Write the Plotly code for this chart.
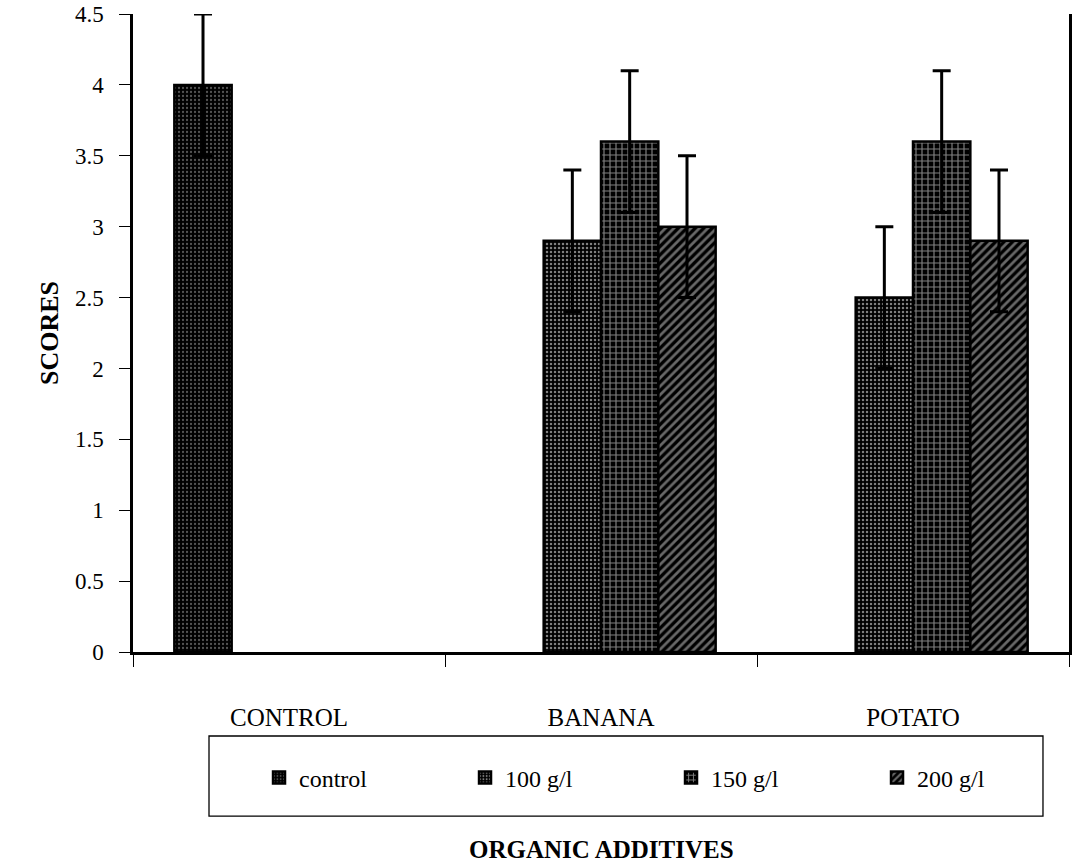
import plotly.graph_objects as go

# Treatment groups on the x-axis
categories = ["CONTROL", "BANANA", "POTATO"]

# Mean scores and standard errors per concentration
control_vals = [4.0, None, None]
control_err = [0.5, None, None]
g100_vals = [None, 2.9, 2.5]
g100_err = [None, 0.5, 0.5]
g150_vals = [None, 3.6, 3.6]
g150_err = [None, 0.5, 0.5]
g200_vals = [None, 3.0, 2.9]
g200_err = [None, 0.5, 0.5]

series_names = ["control", "100 g/l", "150 g/l", "200 g/l"]
y_ticks = [0, 0.5, 1, 1.5, 2, 2.5, 3, 3.5, 4, 4.5]

FONT = "Liberation Serif"

patterns = [
    dict(shape=".", fgcolor="#a8a8a8", bgcolor="#000000", size=4, solidity=0.25),
    dict(shape=".", fgcolor="#ffffff", bgcolor="#000000", size=4, solidity=0.3),
    dict(shape="+", fgcolor="#ffffff", bgcolor="#000000", size=6, solidity=0.35),
    dict(shape="/", fgcolor="#d0d0d0", bgcolor="#000000", size=6, solidity=0.45),
]

fig = go.Figure()
for name, vals, errs, pat in zip(
    series_names,
    [control_vals, g100_vals, g150_vals, g200_vals],
    [control_err, g100_err, g150_err, g200_err],
    patterns,
):
    fig.add_trace(go.Bar(
        x=categories,
        y=vals,
        name=name,
        marker=dict(color="black", pattern=pat, line=dict(color="black", width=2.5)),
        error_y=dict(type="data", array=errs, visible=True,
                     color="black", thickness=3, width=9),
    ))

# Frame around the legend
fig.add_shape(type="rect", xref="paper", yref="paper",
              x0=0.0812, x1=0.9722, y0=-0.2571, y1=-0.1317,
              line=dict(color="black", width=1.3), fillcolor="rgba(0,0,0,0)")

# x-axis title, set below the legend
fig.add_annotation(text="<b>ORGANIC ADDITIVES</b>", xref="paper", yref="paper",
                   x=0.5, y=-0.3103, xanchor="center", yanchor="middle",
                   showarrow=False, font=dict(family=FONT, size=25, color="black"))

fig.update_layout(
    width=1073, height=868,
    margin=dict(l=133, r=4, t=14, b=216, autoexpand=False),
    paper_bgcolor="white", plot_bgcolor="white",
    barmode="group", bargap=0.265, bargroupgap=0,
    font=dict(family=FONT, size=22, color="black"),
    showlegend=True,
    legend=dict(
        orientation="h", xref="container", yref="container",
        x=0.2414, xanchor="left", y=0.1037, yanchor="middle",
        entrywidth=161, entrywidthmode="pixels",
        font=dict(family=FONT, size=24, color="black"),
        bgcolor="rgba(0,0,0,0)", borderwidth=0,
        traceorder="normal",
    ),
    xaxis=dict(
        type="category", categoryorder="array", categoryarray=categories,
        tickson="boundaries", ticks="outside", ticklen=12, tickwidth=1.2,
        tickcolor="black", showline=True, linecolor="black", linewidth=2.5,
        mirror=False, showgrid=False, zeroline=False,
        ticklabelstandoff=41,
        tickfont=dict(family=FONT, size=25),
        automargin=False,
    ),
    yaxis=dict(
        range=[0, 4.5], tickvals=y_ticks,
        ticktext=[f"{v:g}" for v in y_ticks],
        ticks="outside", ticklen=11, tickwidth=1.2, tickcolor="black",
        showline=True, linecolor="black", linewidth=2.5, mirror=True,
        showgrid=False, zeroline=False, ticklabelstandoff=11,
        tickfont=dict(family=FONT, size=23),
        title=dict(text="<b>SCORES</b>", standoff=9,
                   font=dict(family=FONT, size=26)),
        automargin=False,
    ),
)

fig.write_html("out.html")
